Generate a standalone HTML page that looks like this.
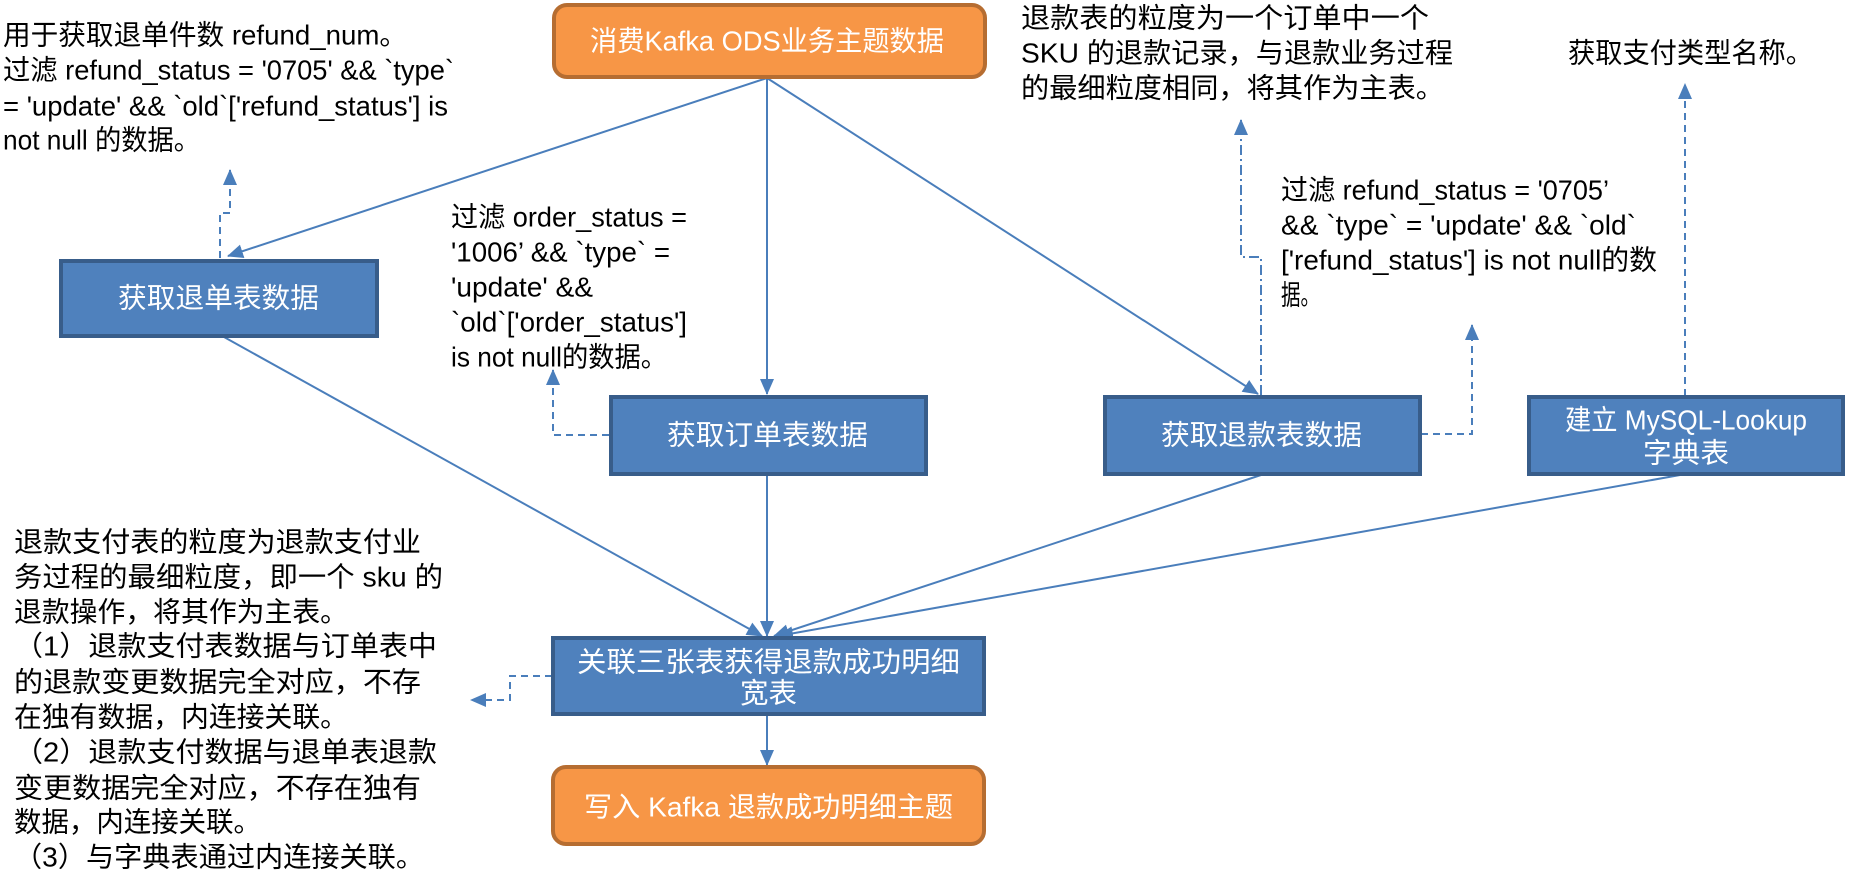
<!DOCTYPE html>
<html><head><meta charset="utf-8"><style>
html,body{margin:0;padding:0;background:#fff;}
svg{display:block}
text{font-family:"Liberation Sans","Noto Sans CJK SC",sans-serif;font-size:28px;fill:#000;dominant-baseline:central}
.w{fill:#fff}
</style></head><body>
<svg width="1851" height="871" viewBox="0 0 1851 871" xmlns="http://www.w3.org/2000/svg">
<defs>
<marker id="b" markerWidth="16" markerHeight="14" refX="15" refY="7" orient="auto" markerUnits="userSpaceOnUse" viewBox="0 0 16 14">
<path d="M0,0 L16,7 L0,14 z" fill="#4a7ebb"/></marker>
</defs>
<g stroke="#4a7ebb" stroke-width="2" fill="none">
<line x1="767" y1="78" x2="228" y2="256" marker-end="url(#b)"/>
<line x1="767" y1="78" x2="767" y2="394" marker-end="url(#b)"/>
<line x1="767" y1="78" x2="1258" y2="394" marker-end="url(#b)"/>
<line x1="224" y1="337" x2="762" y2="636" marker-end="url(#b)"/>
<line x1="767" y1="475" x2="767" y2="636" marker-end="url(#b)"/>
<line x1="1261" y1="475" x2="774" y2="636" marker-end="url(#b)"/>
<line x1="1680" y1="475" x2="778" y2="636" marker-end="url(#b)"/>
<line x1="767" y1="715" x2="767" y2="765" marker-end="url(#b)"/>
</g>
<g stroke="#4a7ebb" stroke-width="2" fill="none" stroke-dasharray="7,5">
<polyline points="220,258 220,213 230,213 230,170" marker-end="url(#b)"/>
<polyline points="609,435 553,435 553,370" marker-end="url(#b)"/>
<polyline points="1421,434 1472,434 1472,325" marker-end="url(#b)"/>
<polyline points="1685,396 1685,84" marker-end="url(#b)"/>
<polyline points="552,676 510,676 510,700 471,700" marker-end="url(#b)"/>
</g>
<polyline points="1261,395 1261,257 1241,257 1241,120" stroke="#4a7ebb" stroke-width="2" fill="none" stroke-dasharray="10,4,2,4" marker-end="url(#b)"/>

<rect x="554" y="5" width="431" height="72" rx="13" fill="#f79646" stroke="#b66d31" stroke-width="4"/>
<text class="w" x="590" y="41" textLength="354" lengthAdjust="spacingAndGlyphs">消费Kafka ODS业务主题数据</text>

<g fill="#4f81bd" stroke="#385d8a" stroke-width="4">
<rect x="61" y="261" width="316" height="75"/>
<rect x="611" y="397" width="315" height="77"/>
<rect x="1105" y="397" width="315" height="77"/>
<rect x="1529" y="397" width="314" height="77"/>
<rect x="553" y="638" width="431" height="76"/>
</g>
<rect x="553" y="767" width="431" height="77" rx="13" fill="#f79646" stroke="#b66d31" stroke-width="4"/>

<text class="w" x="118" y="298" textLength="201" lengthAdjust="spacingAndGlyphs">获取退单表数据</text>
<text class="w" x="667" y="435" textLength="201" lengthAdjust="spacingAndGlyphs">获取订单表数据</text>
<text class="w" x="1161" y="435" textLength="201" lengthAdjust="spacingAndGlyphs">获取退款表数据</text>
<text class="w" x="1565" y="420" textLength="242" lengthAdjust="spacingAndGlyphs">建立 MySQL-Lookup</text>
<text class="w" x="1643" y="453" textLength="86" lengthAdjust="spacingAndGlyphs">字典表</text>
<text class="w" x="577" y="662" textLength="383" lengthAdjust="spacingAndGlyphs">关联三张表获得退款成功明细</text>
<text class="w" x="740" y="693" textLength="57" lengthAdjust="spacingAndGlyphs">宽表</text>
<text class="w" x="584" y="807" textLength="369" lengthAdjust="spacingAndGlyphs">写入 Kafka 退款成功明细主题</text>

<text x="3" y="35" textLength="404" lengthAdjust="spacingAndGlyphs">用于获取退单件数 refund_num。</text>
<text x="3" y="70" textLength="451" lengthAdjust="spacingAndGlyphs">过滤 refund_status = '0705' &amp;&amp; `type`</text>
<text x="3" y="106" textLength="445" lengthAdjust="spacingAndGlyphs">= 'update' &amp;&amp; `old`['refund_status'] is</text>
<text x="3" y="140" textLength="197" lengthAdjust="spacingAndGlyphs">not null 的数据。</text>

<text x="451" y="217" textLength="236" lengthAdjust="spacingAndGlyphs">过滤 order_status =</text>
<text x="451" y="252" textLength="219" lengthAdjust="spacingAndGlyphs">'1006’ &amp;&amp; `type` =</text>
<text x="451" y="287" textLength="142" lengthAdjust="spacingAndGlyphs">'update' &amp;&amp;</text>
<text x="451" y="322" textLength="236" lengthAdjust="spacingAndGlyphs">`old`['order_status']</text>
<text x="451" y="357" textLength="216" lengthAdjust="spacingAndGlyphs">is not null的数据。</text>

<text x="1021" y="18" textLength="408" lengthAdjust="spacingAndGlyphs">退款表的粒度为一个订单中一个</text>
<text x="1021" y="53" textLength="432" lengthAdjust="spacingAndGlyphs">SKU 的退款记录，与退款业务过程</text>
<text x="1021" y="88" textLength="423" lengthAdjust="spacingAndGlyphs">的最细粒度相同，将其作为主表。</text>

<text x="1568" y="53" textLength="245" lengthAdjust="spacingAndGlyphs">获取支付类型名称。</text>

<text x="1281" y="190" textLength="328" lengthAdjust="spacingAndGlyphs">过滤 refund_status = '0705’</text>
<text x="1281" y="225" textLength="355" lengthAdjust="spacingAndGlyphs">&amp;&amp; `type` = 'update'  &amp;&amp; `old`</text>
<text x="1281" y="260" textLength="376" lengthAdjust="spacingAndGlyphs">['refund_status'] is not null的数</text>
<text x="1281" y="295" textLength="39" lengthAdjust="spacingAndGlyphs">据。</text>

<text x="14" y="542" textLength="407" lengthAdjust="spacingAndGlyphs">退款支付表的粒度为退款支付业</text>
<text x="14" y="577" textLength="429" lengthAdjust="spacingAndGlyphs">务过程的最细粒度，即一个 sku 的</text>
<text x="14" y="612" textLength="334" lengthAdjust="spacingAndGlyphs">退款操作，将其作为主表。</text>
<text x="14" y="646" textLength="423" lengthAdjust="spacingAndGlyphs">（1）退款支付表数据与订单表中</text>
<text x="14" y="682" textLength="407" lengthAdjust="spacingAndGlyphs">的退款变更数据完全对应，不存</text>
<text x="14" y="717" textLength="334" lengthAdjust="spacingAndGlyphs">在独有数据，内连接关联。</text>
<text x="14" y="752" textLength="423" lengthAdjust="spacingAndGlyphs">（2）退款支付数据与退单表退款</text>
<text x="14" y="788" textLength="407" lengthAdjust="spacingAndGlyphs">变更数据完全对应，不存在独有</text>
<text x="14" y="822" textLength="247" lengthAdjust="spacingAndGlyphs">数据，内连接关联。</text>
<text x="14" y="857" textLength="410" lengthAdjust="spacingAndGlyphs">（3）与字典表通过内连接关联。</text>
</svg>
</body></html>
